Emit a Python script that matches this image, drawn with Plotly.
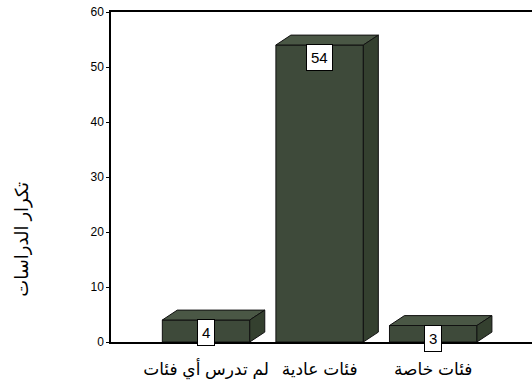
import plotly.graph_objects as go

# Study frequencies by class type
categories = ["لم تدرس أي فئات", "فئات عادية", "فئات خاصة"]
counts = [4, 54, 3]
y_ticks = [0, 10, 20, 30, 40, 50, 60]

# 3D box geometry (in axis units)
half_w = 0.385      # half width of the front face
depth_x = 0.132     # horizontal depth offset
depth_y = 1.8       # vertical depth offset

front_col = "#3e4a3a"
top_col = "#4a5745"
side_col = "#34402f"
edge = "#111111"

fig = go.Figure()

pos = list(range(len(categories)))

# front faces
fig.add_trace(go.Bar(
    x=pos, y=counts, width=2 * half_w,
    marker=dict(color=front_col, line=dict(color=edge, width=1)),
    hoverinfo="skip", showlegend=False,
))

# top and side faces
for i, v in zip(pos, counts):
    xl, xr = i - half_w, i + half_w
    top_x = [xl, xl + depth_x, xr + depth_x, xr, xl]
    top_y = [v, v + depth_y, v + depth_y, v, v]
    side_x = [xr, xr + depth_x, xr + depth_x, xr, xr]
    side_y = [0, depth_y, v + depth_y, v, 0]
    for px, py, col in ((top_x, top_y, top_col), (side_x, side_y, side_col)):
        fig.add_trace(go.Scatter(
            x=px, y=py, mode="lines", fill="toself", fillcolor=col,
            line=dict(color=edge, width=1), hoverinfo="skip", showlegend=False,
        ))

# value labels in white boxes at the top of each front face
for i, v in zip(pos, counts):
    fig.add_annotation(
        x=i, y=v, xref="x", yref="y", text=str(v), showarrow=False,
        yanchor="top", yshift=1,
        font=dict(family="Arial, Liberation Sans", size=15, color="black"),
        bgcolor="white", bordercolor="black", borderwidth=1, borderpad=4,
    )

# rotated y-axis title
fig.add_annotation(
    x=-0.209, y=0.31, xref="paper", yref="paper",
    xanchor="center", yanchor="middle",
    text="تكرار الدراسات", textangle=-90, showarrow=False,
    font=dict(family="Arial, DejaVu Sans", size=18, color="black"),
)

fig.update_layout(
    width=532, height=387,
    margin=dict(l=111, r=0, t=12, b=45),
    paper_bgcolor="white", plot_bgcolor="white",
    font=dict(family="Arial, Liberation Sans, DejaVu Sans", color="black"),
    xaxis=dict(
        range=[-0.837, 2.87], tickmode="array", tickvals=pos, ticktext=categories,
        showgrid=False, zeroline=False, showline=True, mirror=True,
        linecolor="black", linewidth=1.5, ticks="",
        tickfont=dict(size=17, family="Arial, DejaVu Sans"),
        ticklabelstandoff=11,
    ),
    yaxis=dict(
        range=[0, 60], tickmode="array", tickvals=y_ticks,
        showgrid=False, zeroline=False, showline=True,
        linecolor="black", linewidth=1.5, ticks="outside", ticklen=3,
        tickcolor="black", tickfont=dict(size=12),
    ),
)

fig.write_html("out.html")
